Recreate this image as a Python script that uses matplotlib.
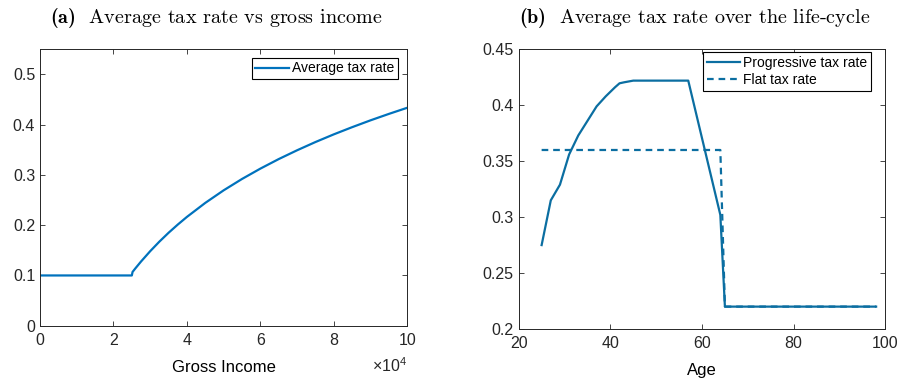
import matplotlib
matplotlib.use("Agg")
import matplotlib.pyplot as plt
from matplotlib.ticker import FuncFormatter

plt.rcParams['font.family'] = ['Liberation Sans', 'DejaVu Sans']
plt.rcParams['mathtext.fontset'] = 'custom'
plt.rcParams['mathtext.rm'] = 'Liberation Sans'
plt.rcParams['mathtext.bf'] = 'cmb10'

# (a) average tax rate vs gross income
income = [0, 25000, 25200, 26000, 27500, 30000, 32500, 35000, 37500, 40000, 45000, 50000,
          55000, 60000, 65000, 70000, 75000, 80000, 85000, 90000, 95000, 100000]
avg_rate = [0.100, 0.100, 0.107, 0.1144, 0.1277, 0.1483, 0.1673, 0.1849, 0.2012, 0.2165,
            0.2444, 0.2694, 0.2920, 0.3126, 0.3316, 0.3491, 0.3655, 0.3808, 0.3951,
            0.4087, 0.4215, 0.4337]

# (b) average tax rate over the life-cycle
prog_age = [25, 27, 29, 31, 33, 35, 37, 39, 41, 42, 43, 45, 57, 64, 65, 98]
prog_rate = [0.275, 0.315, 0.329, 0.356, 0.373, 0.386, 0.399, 0.408, 0.416, 0.4196,
             0.4205, 0.422, 0.422, 0.302, 0.220, 0.220]
flat_age = [25, 64, 65, 98]
flat_rate = [0.36, 0.36, 0.22, 0.22]

c_a = '#0072BD'
c_b = '#0b6ea1'
gfmt = FuncFormatter(lambda v, p: f"{v:g}")


def style(ax):
    ax.tick_params(direction='in', top=True, right=True, length=3.5, width=0.6,
                   labelsize=11.5, colors='#262626')
    ax.tick_params(axis='x', pad=5)
    ax.tick_params(axis='y', pad=3.5)
    for s in ax.spines.values():
        s.set_color('#262626')
        s.set_linewidth(0.7)


fig = plt.figure(figsize=(9.04, 3.81), dpi=100)
ax1 = fig.add_axes([0.04425, 0.1451, 0.4063, 0.7255])
ax2 = fig.add_axes([0.5738, 0.1365, 0.4055, 0.7341])

ax1.plot(income, avg_rate, color=c_a, lw=1.6, label='Average tax rate')
ax1.set_xlim(0, 100000)
ax1.set_ylim(0, 0.55)
ax1.set_xticks([0, 20000, 40000, 60000, 80000, 100000])
ax1.set_yticks([0, 0.1, 0.2, 0.3, 0.4, 0.5])
ax1.xaxis.set_major_formatter(FuncFormatter(lambda v, p: f"{v / 1e4:g}"))
ax1.yaxis.set_major_formatter(gfmt)
ax1.set_xlabel('Gross Income', fontsize=12, labelpad=9)
ax1.text(1.0, -0.11, r'$\times10^{4}$', transform=ax1.transAxes, ha='right', va='top',
         fontsize=11.5, color='#262626')
style(ax1)
leg1 = ax1.legend(loc='upper right', bbox_to_anchor=(0.9747, 0.9686), borderaxespad=0,
                  fontsize=10, fancybox=False, edgecolor='black', framealpha=1,
                  handlelength=2.4, handletextpad=0.25, borderpad=0.25)
leg1.get_frame().set_linewidth(0.8)

ax2.plot(prog_age, prog_rate, color=c_b, lw=1.6, label='Progressive tax rate')
ax2.plot(flat_age, flat_rate, color=c_b, lw=1.6, ls=(0, (3, 2.2)), label='Flat tax rate')
ax2.set_xlim(20, 100)
ax2.set_ylim(0.2, 0.45)
ax2.set_xticks([20, 40, 60, 80, 100])
ax2.set_yticks([0.2, 0.25, 0.3, 0.35, 0.4, 0.45])
ax2.yaxis.set_major_formatter(gfmt)
ax2.set_xlabel('Age', fontsize=12, labelpad=9)
style(ax2)
leg2 = ax2.legend(loc='upper right', bbox_to_anchor=(0.961, 0.990), borderaxespad=0,
                  fontsize=10, fancybox=False, edgecolor='black', framealpha=1,
                  handlelength=2.4, handletextpad=0.25, borderpad=0.25, labelspacing=0.25)
leg2.get_frame().set_linewidth(0.8)

fig.text(216 / 904, 1 - 23.3 / 381, r'$\mathbf{(a)}$  Average tax rate vs gross income',
         family='cmr10', fontsize=14.5, ha='center', va='baseline')
fig.text(695 / 904, 1 - 23.3 / 381, r'$\mathbf{(b)}$  Average tax rate over the life-cycle',
         family='cmr10', fontsize=14.5, ha='center', va='baseline')

fig.savefig('out.png', dpi=100)
